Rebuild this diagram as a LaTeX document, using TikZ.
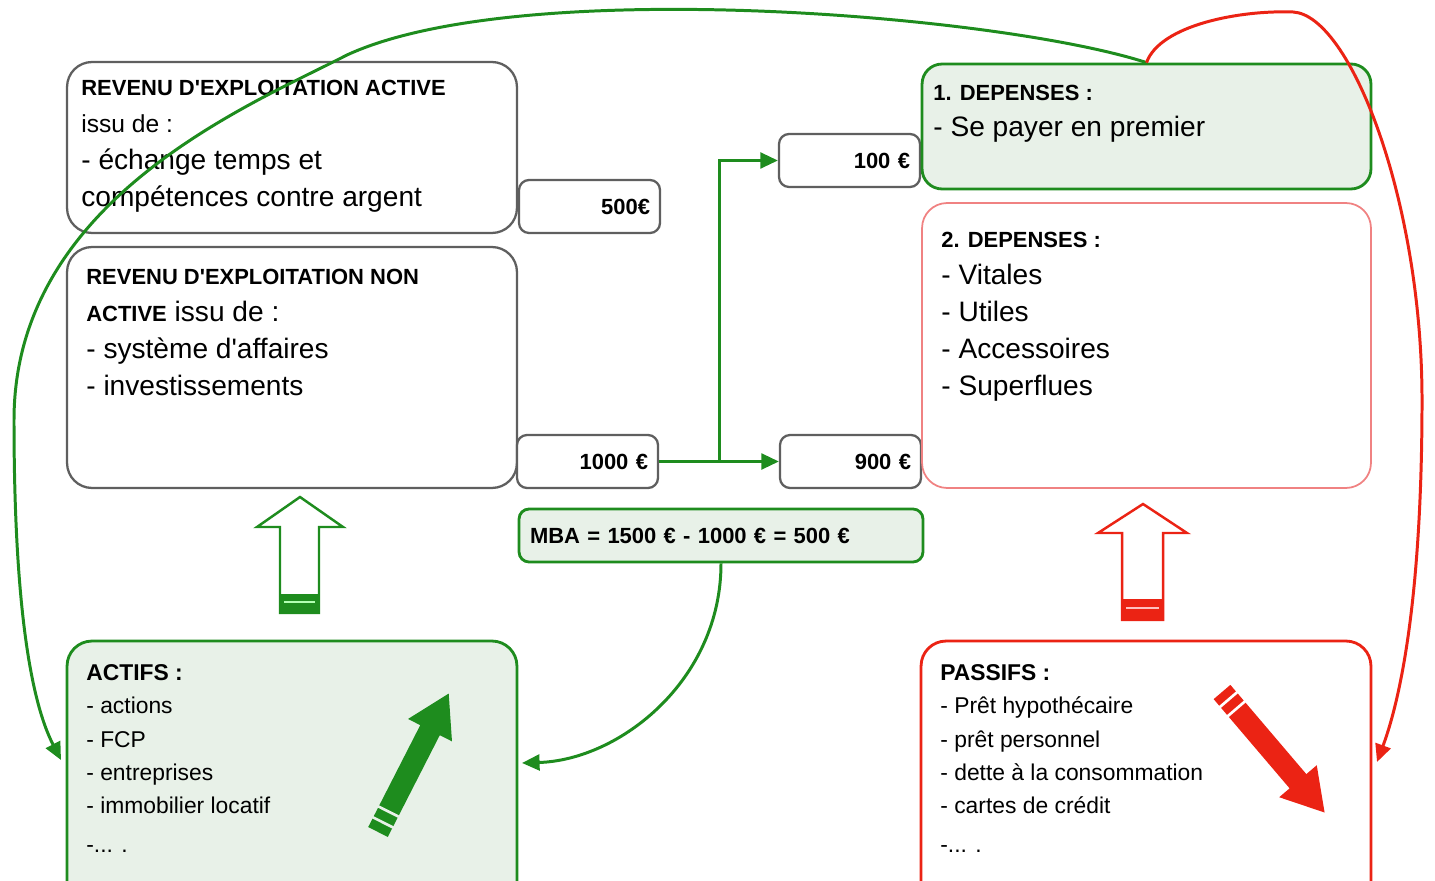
\documentclass[tikz,border=0pt]{standalone}
\usepackage{fontspec}
\setmainfont{Liberation Sans}
\usetikzlibrary{arrows.meta}
\definecolor{cgreen}{RGB}{30,140,30}
\definecolor{lgreen}{RGB}{232,241,232}
\definecolor{cred}{RGB}{235,35,20}
\definecolor{pinkred}{RGB}{240,130,130}
\definecolor{cgray}{RGB}{95,95,95}
\newcommand{\hd}[1]{{\fontsize{12.5}{21}\selectfont\bfseries #1}}
\begin{document}
\begin{tikzpicture}[x=0.02cm,y=-0.02cm,
  bigbox/.style={draw=cgray, line width=1.3pt, rounded corners=0.5cm, fill=white, minimum width=9cm, inner sep=0},
  numbox/.style={draw=cgray, line width=1.3pt, rounded corners=0.2cm, fill=white, minimum width=2.82cm, minimum height=1.06cm, text width=2.42cm, inner xsep=0.2cm, inner ysep=0, align=right, font=\fontsize{12.5}{14}\selectfont\bfseries},
  txt/.style={anchor=north west, inner sep=0, align=left},
  conn/.style={draw=cgreen, line width=1.7pt, -{Triangle[length=10pt,width=9pt]}},
  rconn/.style={draw=cred, line width=1.7pt, -{Triangle[length=10pt,width=9pt]}}]
\useasboundingbox (0,0) rectangle (1435,881);
\clip (0,0) rectangle (1435,881);
% boxes
\node[bigbox, minimum height=3.42cm] (active) at (292,147.5) {};
\node[bigbox, minimum height=4.82cm] (nonactive) at (292,367.5) {};
\node[numbox] (k500) at (589.5,206.5) {500€};
\node[numbox] (k1000) at (587.5,461.5) {1000 €};
\node[numbox] (k100) at (849.5,160.5) {100 €};
\node[numbox] (k900) at (850.5,461.5) {900 €};
\node[draw=cgreen, fill=lgreen, line width=1.6pt, rounded corners=0.4cm, minimum width=8.98cm, minimum height=2.5cm, inner sep=0] (dep1) at (1146.5,126.5) {};
\node[draw=pinkred, fill=white, line width=1pt, rounded corners=0.5cm, minimum width=8.98cm, minimum height=5.7cm, inner sep=0] (dep2) at (1146.5,345.5) {};
\node[draw=cgreen, fill=lgreen, line width=1.6pt, rounded corners=0.2cm, minimum width=8.08cm, minimum height=1.06cm, text width=7.64cm, inner xsep=0.22cm, inner ysep=0, align=left, font=\fontsize{12.5}{14}\selectfont\bfseries] (mba) at (721,535.5) {MBA = 1500 € - 1000 € = 500 €};
\node[draw=cgreen, fill=lgreen, line width=1.6pt, rounded corners=0.5cm, minimum width=9cm, minimum height=5.36cm, inner sep=0] (actifs) at (292,775) {};
\node[draw=cred, fill=white, line width=1.6pt, rounded corners=0.5cm, minimum width=9cm, minimum height=5.36cm, inner sep=0] (passifs) at (1146,775) {};
% texts
\node[txt, font=\fontsize{16}{21}\selectfont] (tactive) at (81,80)
  {\hd{REVENU D\textquotesingle EXPLOITATION ACTIVE}\\ {\fontsize{14}{21}\selectfont issu de :}\\ - échange temps et\\ compétences contre argent};
\node[txt, font=\fontsize{16}{21}\selectfont] (tnonactive) at (86,269)
  {\hd{REVENU D\textquotesingle EXPLOITATION NON}\\ \hd{ACTIVE} issu de :\\ - système d\textquotesingle affaires\\ - investissements};
\node[txt, font=\fontsize{16}{20.5}\selectfont] (tdep1) at (933,85)
  {\hd{1. DEPENSES :}\\ - Se payer en premier};
\node[txt, font=\fontsize{16}{21}\selectfont] (tdep2) at (941,232)
  {\hd{2. DEPENSES :}\\ - Vitales\\ - Utiles\\ - Accessoires\\ - Superflues};
\node[txt, font=\fontsize{13}{19}\selectfont] (tactifs) at (86,664)
  {{\fontsize{13}{19}\selectfont\bfseries ACTIFS :}\\ - actions\\ - FCP\\ - entreprises\\ - immobilier locatif\\[3pt] -... .};
\node[txt, font=\fontsize{13}{19}\selectfont] (tpassifs) at (940,664)
  {{\fontsize{13}{19}\selectfont\bfseries PASSIFS :}\\ - Prêt hypothécaire\\ - prêt personnel\\ - dette à la consommation\\ - cartes de crédit\\[3pt] -... .};
% connectors
\coordinate (split) at (719,461.5);
\coordinate (greenend) at (61,760);
\coordinate (redend) at (1377,762);
\coordinate (mbaend) at (522,763);
\draw[conn] (k1000.east) -- (k900.west);
\draw[conn] (split) |- (k100.west);
\draw[conn] (mba.south) .. controls (721,680) and (620,760) .. (mbaend);
\draw[conn] (dep1.north) .. controls (1000,15) and (520,-25) .. (347,55)
  .. controls (250,105) and (14,200) .. (14,420)
  .. controls (14,600) and (30,700) .. (greenend);
\draw[rconn] (dep1.north) .. controls (1160,25) and (1240,10) .. (1293,12)
  .. controls (1350,15) and (1422,200) .. (1422,400)
  .. controls (1422,600) and (1400,700) .. (redend);
% wide outline arrows
\draw[cgreen, line width=1.4pt, fill=white] (300,497) -- (343,527) -- (319,527) -- (319,613) -- (280,613) -- (280,527) -- (257,527) -- cycle;
\fill[cgreen] (280,594) rectangle (319,613);
\draw[green!30!white, line width=1.2pt] (284,602) -- (315,602);
\draw[cred, line width=1.4pt, fill=white] (1143,504) -- (1187,533) -- (1163,533) -- (1163,620) -- (1122,620) -- (1122,533) -- (1098,533) -- cycle;
\fill[cred] (1122,599) rectangle (1163,620);
\draw[red!25!white, line width=1.2pt] (1126,608) -- (1159,608);
% pencil arrows
\draw[cgreen, line width=12.5pt, -{Triangle[length=0pt 1.9, width=0pt 2.1]}] (378,832) -- (449,693);
\draw[lgreen, line width=1.5pt] (371.5,816.6) -- (393.3,827.6);
\draw[lgreen, line width=1.5pt] (376.9,805.7) -- (398.7,816.7);
\draw[cred, line width=12.5pt, -{Triangle[length=0pt 1.9, width=0pt 2.1]}] (1222,692) -- (1325,813);
\draw[white, line width=1.5pt] (1219.4,707.4) -- (1237.6,691.8);
\draw[white, line width=1.5pt] (1227.2,716.6) -- (1245.4,701.0);
\end{tikzpicture}
\end{document}
